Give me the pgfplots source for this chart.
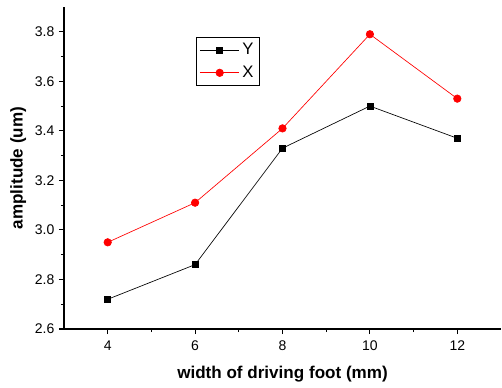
\documentclass[border=0pt]{standalone}
\usepackage{pgfplots}
\pgfplotsset{compat=1.18}
\usepackage{fontspec}
\setmainfont{Liberation Sans}
\begin{document}
\begin{tikzpicture}
\useasboundingbox (-48pt,-43.5pt) rectangle (328.5pt,246.75pt);
\begin{axis}[
  at={(0,0)}, anchor=south west,
  scale only axis,
  width=327.75pt, height=241.5pt,
  xmin=3, xmax=13, ymin=2.6, ymax=3.9,
  axis x line*=bottom, axis y line*=left,
  axis line style={-, line width=0.8pt},
  xtick={4,6,8,10,12},
  ytick={2.6,2.8,3.0,3.2,3.4,3.6,3.8},
  minor x tick num=1, minor y tick num=1,
  tick align=outside,
  major tick length=3.75pt, minor tick length=2.25pt,
  tick style={line width=0.8pt, black},
  /pgf/number format/assume math mode=true,
  yticklabel style={/pgf/number format/.cd, fixed, fixed zerofill, precision=1},
  xticklabel style={yshift=-1.5pt},
  ticklabel style={font=\fontsize{10.5}{12}\selectfont},
  xlabel={\textbf{width of driving foot (mm)}},
  ylabel={\textbf{amplitude (um)}},
  label style={font=\fontsize{12.8}{14}\selectfont},
  xlabel style={at={(axis description cs:0.5,-0.1398)}, anchor=center},
  ylabel style={at={(axis description cs:-0.105,0.5)}, anchor=center},
  legend style={at={(axis description cs:0.302,0.907)}, anchor=north west,
    draw=black, line width=0.5pt, font=\fontsize{12.5}{14}\selectfont,
    inner sep=2.5pt, row sep=3pt},
  legend cell align=left,
  legend image code/.code={\draw[mark repeat=2,mark phase=2] plot coordinates {(0cm,0cm) (0.52cm,0cm) (1.04cm,0cm)};},
]
\addplot[black, line width=0.5pt, mark=square*, mark size=2.3pt, mark options={solid}] coordinates {
 (4,2.72) (6,2.86) (8,3.33) (10,3.50) (12,3.37)};
\addlegendentry{Y}
\addplot[red, line width=0.5pt, mark=*, mark size=2.8pt, mark options={solid}] coordinates {
 (4,2.95) (6,3.11) (8,3.41) (10,3.79) (12,3.53)};
\addlegendentry{X}
\end{axis}
\end{tikzpicture}
\end{document}
